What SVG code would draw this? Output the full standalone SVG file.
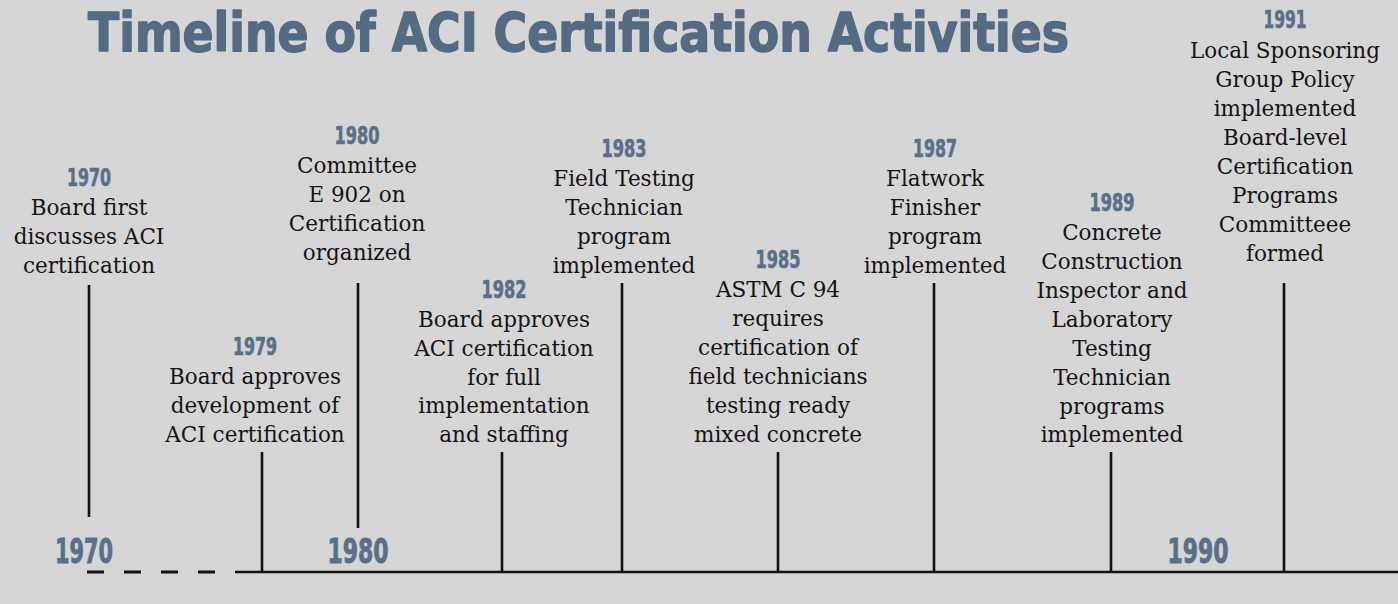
<svg xmlns="http://www.w3.org/2000/svg" width="1398" height="604" viewBox="0 0 1398 604">
<style>
.bg{fill:#d6d6d6}
.title{font-family:"DejaVu Sans Condensed","Liberation Sans",sans-serif;font-weight:bold;font-stretch:condensed;font-size:53px;fill:#556a83;stroke:#556a83;stroke-width:1.4;stroke-linejoin:round}
.yr{font-family:"DejaVu Sans Condensed","Liberation Sans",sans-serif;font-weight:bold;font-stretch:condensed;font-size:24px;fill:#5a6f88;stroke:#5a6f88;stroke-width:0.6;text-anchor:middle}
.axis{font-family:"DejaVu Sans Condensed","Liberation Sans",sans-serif;font-weight:bold;font-stretch:condensed;font-size:34px;fill:#5a6f88;stroke:#5a6f88;stroke-width:0.8;text-anchor:middle}
.t{font-family:"DejaVu Serif","Liberation Serif",serif;font-size:21.5px;fill:#141414;text-anchor:middle}
.ln{stroke:#111;stroke-width:2.6;fill:none}
.dash{stroke:#111;stroke-width:3;stroke-dasharray:17 20;fill:none}
</style>
<rect class="bg" x="0" y="0" width="1398" height="604"/>
<text id="title" class="title" x="88" y="51" textLength="981" lengthAdjust="spacingAndGlyphs">Timeline of ACI Certification Activities</text>

<g id="connectors">
  <line class="dash" x1="87" y1="572" x2="235" y2="572"/>
  <line class="ln" x1="235" y1="572" x2="1398" y2="572" stroke-width="2.8"/>
  <line class="ln" x1="89" y1="285" x2="89" y2="517"/>
  <line class="ln" x1="262" y1="452" x2="262" y2="572"/>
  <line class="ln" x1="358" y1="283" x2="358" y2="528"/>
  <line class="ln" x1="502" y1="452" x2="502" y2="572"/>
  <line class="ln" x1="622" y1="283" x2="622" y2="572"/>
  <line class="ln" x1="778" y1="452" x2="778" y2="572"/>
  <line class="ln" x1="934" y1="283" x2="934" y2="572"/>
  <line class="ln" x1="1111" y1="452" x2="1111" y2="572"/>
  <line class="ln" x1="1284" y1="283" x2="1284" y2="572"/>
</g>

<g id="axis-labels">
  <text class="axis" x="84" y="563" textLength="58" lengthAdjust="spacingAndGlyphs">1970</text>
  <text class="axis" x="358" y="563" textLength="61" lengthAdjust="spacingAndGlyphs">1980</text>
  <text class="axis" x="1198" y="563" textLength="61" lengthAdjust="spacingAndGlyphs">1990</text>
</g>

<g id="e1970">
  <text class="yr" x="89" y="186" textLength="44" lengthAdjust="spacingAndGlyphs">1970</text>
  <text class="t" x="89" y="215">Board first</text>
  <text class="t" x="89" y="244">discusses ACI</text>
  <text class="t" x="89" y="273">certification</text>
</g>

<g id="e1979">
  <text class="yr" x="255" y="355" textLength="44" lengthAdjust="spacingAndGlyphs">1979</text>
  <text class="t" x="255" y="384">Board approves</text>
  <text class="t" x="255" y="413">development of</text>
  <text class="t" x="255" y="442">ACI certification</text>
</g>

<g id="e1980">
  <text class="yr" x="357" y="144" textLength="45" lengthAdjust="spacingAndGlyphs">1980</text>
  <text class="t" x="357" y="173">Committee</text>
  <text class="t" x="357" y="202">E 902 on</text>
  <text class="t" x="357" y="231">Certification</text>
  <text class="t" x="357" y="260">organized</text>
</g>

<g id="e1982">
  <text class="yr" x="504" y="298" textLength="45" lengthAdjust="spacingAndGlyphs">1982</text>
  <text class="t" x="504" y="327">Board approves</text>
  <text class="t" x="504" y="356">ACI certification</text>
  <text class="t" x="504" y="385">for full</text>
  <text class="t" x="504" y="413">implementation</text>
  <text class="t" x="504" y="442">and staffing</text>
</g>

<g id="e1983">
  <text class="yr" x="624" y="157" textLength="45" lengthAdjust="spacingAndGlyphs">1983</text>
  <text class="t" x="624" y="186">Field Testing</text>
  <text class="t" x="624" y="215">Technician</text>
  <text class="t" x="624" y="244">program</text>
  <text class="t" x="624" y="273">implemented</text>
</g>

<g id="e1985">
  <text class="yr" x="778" y="268" textLength="45" lengthAdjust="spacingAndGlyphs">1985</text>
  <text class="t" x="778" y="297">ASTM C 94</text>
  <text class="t" x="778" y="326">requires</text>
  <text class="t" x="778" y="355">certification of</text>
  <text class="t" x="778" y="384">field technicians</text>
  <text class="t" x="778" y="413">testing ready</text>
  <text class="t" x="778" y="442">mixed concrete</text>
</g>

<g id="e1987">
  <text class="yr" x="935" y="157" textLength="44" lengthAdjust="spacingAndGlyphs">1987</text>
  <text class="t" x="935" y="186">Flatwork</text>
  <text class="t" x="935" y="215">Finisher</text>
  <text class="t" x="935" y="244">program</text>
  <text class="t" x="935" y="273">implemented</text>
</g>

<g id="e1989">
  <text class="yr" x="1112" y="211" textLength="45" lengthAdjust="spacingAndGlyphs">1989</text>
  <text class="t" x="1112" y="240">Concrete</text>
  <text class="t" x="1112" y="269">Construction</text>
  <text class="t" x="1112" y="298">Inspector and</text>
  <text class="t" x="1112" y="327">Laboratory</text>
  <text class="t" x="1112" y="356">Testing</text>
  <text class="t" x="1112" y="385">Technician</text>
  <text class="t" x="1112" y="414">programs</text>
  <text class="t" x="1112" y="442">implemented</text>
</g>

<g id="e1991">
  <text class="yr" x="1285" y="28" textLength="43" lengthAdjust="spacingAndGlyphs">1991</text>
  <text class="t" x="1285" y="58">Local Sponsoring</text>
  <text class="t" x="1285" y="87">Group Policy</text>
  <text class="t" x="1285" y="116">implemented</text>
  <text class="t" x="1285" y="145">Board-level</text>
  <text class="t" x="1285" y="174">Certification</text>
  <text class="t" x="1285" y="203">Programs</text>
  <text class="t" x="1285" y="232">Committeee</text>
  <text class="t" x="1285" y="261">formed</text>
</g>
</svg>
